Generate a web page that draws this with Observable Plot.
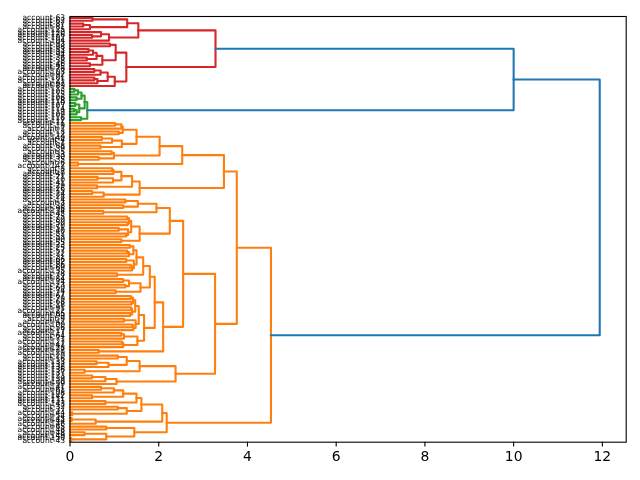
<!DOCTYPE html>
<html>
<head>
<meta charset="utf-8">
<script src="https://cdn.jsdelivr.net/npm/d3@7"></script>
<script src="https://cdn.jsdelivr.net/npm/@observablehq/plot@0.6"></script>
<style>
  body { margin: 0; background: #fff; }
  #chart svg { display: block; will-change: transform; }
  #chart svg text { -webkit-font-smoothing: antialiased; }
</style>
</head>
<body>
<div id="chart"></div>
<script>
// Leaf order, top to bottom, grouped by the three colour clusters.
const upperLeaves = [63, 62, 87, 81, 125, 120, 126, 102, 104, 93, 98, 83, 34, 94, 36, 58, 46, 95, 76, 103, 92, 101, 121, 97, 89];
const middleLeaves = [113, 105, 115, 106, 118, 110, 107, 114, 119, 109, 116, 112];
const lowerLeaves = [
  11, 19, 2, 13, 12, 140, 4, 1, 88, 39, 5, 33, 30, 35, 6, 147, 8, 7, 49, 21, 10,
  41, 29, 26, 15, 24, 28, 14, 3, 38, 96, 134, 45, 75, 80, 50, 70, 51, 40, 52, 53,
  90, 55, 23, 25, 57, 22, 31, 66, 82, 86, 69, 135, 78, 72, 84, 124, 73, 60, 74, 77,
  67, 79, 68, 18, 91, 122, 85, 99, 9, 42, 100, 56, 17, 117, 64, 71, 127, 47, 128,
  27, 129, 20, 16, 133, 132, 138, 136, 137, 123, 139, 130, 59, 141, 61, 108, 142, 111,
  131, 143, 32, 37, 144, 54, 145, 44, 146, 65, 148, 48, 149, 150, 43
];

// Merges: [first leaf, last leaf, merge height]; each merge spans a contiguous run of leaves.
const upperMerges = [
  [0, 1, 0.51], [2, 3, 0.30], [2, 4, 0.45], [0, 4, 1.29], [6, 7, 0.50], [5, 7, 0.70], [5, 8, 0.88], [0, 8, 1.54],
  [9, 10, 0.90], [11, 12, 0.42], [11, 13, 0.52], [14, 15, 0.38], [11, 15, 0.60], [16, 17, 0.45], [11, 17, 0.73], [9, 17, 1.03],
  [18, 19, 0.55], [18, 20, 0.69], [21, 22, 0.55], [21, 23, 0.62], [18, 23, 0.85], [18, 24, 1.01], [9, 24, 1.27], [0, 24, 3.28]
];
const middleMerges = [
  [25, 26, 0.10], [25, 27, 0.18], [28, 29, 0.15], [25, 29, 0.26], [30, 31, 0.12], [32, 33, 0.09],
  [32, 34, 0.15], [30, 34, 0.21], [25, 34, 0.33], [35, 36, 0.25], [25, 36, 0.39]
];
const lowerMerges = [
  [37, 38, 1.02], [37, 39, 1.16], [40, 41, 1.10], [37, 41, 1.19], [42, 43, 0.72], [42, 44, 0.95], [45, 46, 0.69],
  [42, 46, 1.17], [37, 46, 1.50], [47, 48, 0.94], [49, 50, 0.65], [47, 50, 0.99], [37, 50, 2.02], [51, 52, 0.18], [37, 52, 2.53],
  [53, 54, 0.95], [53, 55, 0.98], [56, 57, 0.62], [56, 58, 0.97], [53, 58, 1.16], [59, 60, 0.61], [53, 60, 1.40],
  [61, 62, 0.50], [61, 63, 0.76], [53, 63, 1.57], [37, 63, 3.47],
  [64, 65, 1.25], [66, 67, 1.20], [64, 67, 1.53], [68, 69, 0.75], [64, 69, 1.95], [70, 71, 1.29], [72, 73, 1.30],
  [70, 73, 1.33], [74, 75, 1.10], [76, 77, 1.27], [74, 77, 1.31], [70, 77, 1.38], [78, 79, 1.16], [70, 79, 1.57], [64, 79, 2.25],
  [80, 81, 1.35], [82, 83, 1.29], [82, 84, 1.33], [80, 84, 1.43], [85, 86, 1.27], [87, 88, 1.37], [87, 89, 1.40],
  [85, 89, 1.44], [80, 89, 1.50], [90, 91, 1.06], [80, 91, 1.65], [92, 93, 1.20], [94, 95, 1.25], [92, 95, 1.33],
  [96, 97, 1.03], [92, 97, 1.59], [80, 97, 1.80],
  [98, 99, 1.37], [100, 101, 1.39], [98, 101, 1.42], [102, 103, 1.38], [104, 105, 1.36], [102, 105, 1.40], [98, 105, 1.47],
  [106, 107, 1.22], [108, 109, 1.41], [108, 110, 1.43], [106, 110, 1.48], [98, 110, 1.55], [111, 112, 1.16], [111, 113, 1.22],
  [114, 115, 1.17], [114, 116, 1.20], [111, 116, 1.52], [98, 116, 1.67], [80, 116, 1.91], [117, 118, 0.65], [80, 118, 2.10], [64, 118, 2.55],
  [119, 120, 1.08], [121, 122, 0.60], [121, 123, 0.87], [119, 123, 1.28], [124, 125, 0.33], [119, 125, 1.57],
  [126, 127, 0.50], [126, 128, 0.80], [126, 129, 1.05], [119, 129, 2.38], [64, 129, 3.27], [37, 129, 3.76],
  [130, 131, 0.70], [130, 132, 0.99], [133, 134, 0.50], [130, 134, 1.20], [135, 136, 0.80], [130, 136, 1.50],
  [137, 138, 1.08], [139, 140, 0.05], [137, 140, 1.28], [130, 140, 1.61], [141, 142, 0.04], [141, 143, 0.58], [130, 143, 2.08],
  [144, 145, 0.82], [146, 147, 0.33], [148, 149, 0.03], [146, 149, 0.82], [144, 149, 1.45], [130, 149, 2.18], [37, 149, 4.53]
];
const topMerges = [[0, 36, 10.0], [0, 149, 11.94]];

const xTicks = [0, 2, 4, 6, 8, 10, 12];
const clusterColors = ["#ff7f0e", "#2ca02c", "#d62728", "#9467bd"];
const linkAboveColor = "#1f77b4";

// ---- build the tree from the merge table ----
const leafIds = [...upperLeaves, ...middleLeaves, ...lowerLeaves];
const leafLabels = leafIds.map(k => `account-${k}`);
const n = leafLabels.length;
const merges = [...upperMerges, ...middleMerges, ...lowerMerges, ...topMerges];

const byRange = new Map();
for (let i = 0; i < n; i++) byRange.set(`${i},${i}`, {first: i, last: i, h: 0, y: i + 0.5, leaf: true});
const nodes = merges.map(([first, last, h]) => ({first, last, h}))
  .sort((a, b) => (a.last - a.first) - (b.last - b.first));
for (const nd of nodes) byRange.set(`${nd.first},${nd.last}`, nd);
for (const nd of nodes) {
  let split = nd.first;
  for (const m of nodes) {
    if (m !== nd && m.first === nd.first && m.last < nd.last && m.last > split) split = m.last;
  }
  nd.upper = byRange.get(`${nd.first},${split}`);
  nd.lower = byRange.get(`${split + 1},${nd.last}`);
  nd.y = (nd.upper.y + nd.lower.y) / 2;
}
const root = byRange.get(`0,${n - 1}`);
const threshold = 0.7 * root.h;

// colour clusters below the threshold, starting from the bottom of the leaf order
let nextColor = 0;
function paint(nd, color) {
  if (nd.leaf) return;
  if (nd.h >= threshold) {
    nd.color = linkAboveColor;
    paint(nd.lower, null);
    paint(nd.upper, null);
  } else {
    const c = color || clusterColors[nextColor++ % clusterColors.length];
    nd.color = c;
    paint(nd.lower, c);
    paint(nd.upper, c);
  }
}
paint(root, null);

// each merge is drawn as a bracket: upper child -> merge height -> lower child
const bracketPoints = [];
nodes.forEach((nd, k) => {
  bracketPoints.push(
    {id: k, x: nd.upper.h, y: nd.upper.y, c: nd.color},
    {id: k, x: nd.h, y: nd.upper.y, c: nd.color},
    {id: k, x: nd.h, y: nd.lower.y, c: nd.color},
    {id: k, x: nd.lower.h, y: nd.lower.y, c: nd.color}
  );
});

const chart = Plot.plot({
  width: 640,
  height: 480,
  marginLeft: 69.5,
  marginRight: 14.3,
  marginTop: 16,
  marginBottom: 38.3,
  style: {fontFamily: "DejaVu Sans", background: "transparent", color: "black"},
  x: {domain: [0, root.h * 1.05]},
  y: {domain: [n, 0]},
  color: {type: "identity"},
  marks: [
    Plot.line(bracketPoints, {
      x: "x", y: "y", z: "id", stroke: "c",
      strokeWidth: 2.08, strokeLinejoin: "round", strokeLinecap: "square"
    }),
    Plot.frame({stroke: "black", strokeWidth: 1.1}),
    Plot.axisX(xTicks, {
      tickSize: 4.9, tickPadding: 4, fontSize: 13.9, label: null,
      strokeWidth: 1.1, tickFormat: d => String(d)
    }),
    Plot.axisY(d3.range(n).map(i => i + 0.5), {
      tickSize: 0, tickPadding: 4.9, fontSize: 7.6, label: null,
      tickFormat: v => leafLabels[Math.floor(v)]
    })
  ]
});
document.getElementById("chart").append(chart);
</script>
</body>
</html>
